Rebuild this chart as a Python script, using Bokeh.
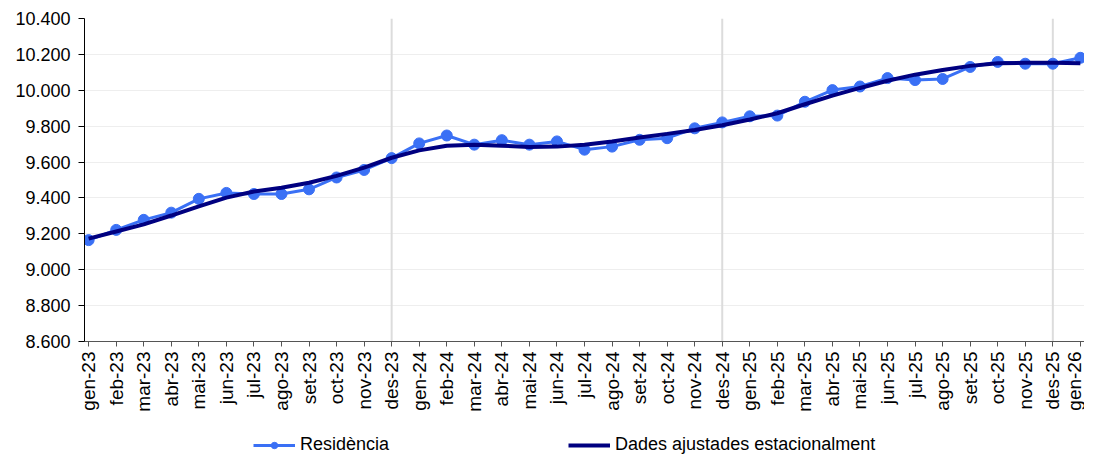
import math
from bokeh.plotting import figure
from bokeh.layouts import column
from bokeh.models import Range1d, FixedTicker, Span, Legend, LegendItem
from bokeh.embed import file_html
from bokeh.resources import INLINE

months = ["gen-23", "feb-23", "mar-23", "abr-23", "mai-23", "jun-23", "jul-23", "ago-23",
          "set-23", "oct-23", "nov-23", "des-23",
          "gen-24", "feb-24", "mar-24", "abr-24", "mai-24", "jun-24", "jul-24", "ago-24",
          "set-24", "oct-24", "nov-24", "des-24",
          "gen-25", "feb-25", "mar-25", "abr-25", "mai-25", "jun-25", "jul-25", "ago-25",
          "set-25", "oct-25", "nov-25", "des-25", "gen-26"]

residencia = [9165, 9222, 9278, 9318, 9395, 9428, 9422, 9422, 9448, 9514, 9556, 9622,
              9704, 9748, 9697, 9722, 9697, 9715, 9669, 9686, 9724, 9733, 9788, 9821,
              9855, 9859, 9936, 10001, 10021, 10068, 10057, 10063, 10130, 10158, 10148, 10148,
              10181]

ajustades = [9173, 9213, 9253, 9302, 9353, 9402, 9436, 9457, 9485, 9523, 9569, 9624,
             9665, 9691, 9697, 9691, 9684, 9686, 9697, 9715, 9737, 9757, 9779, 9805,
             9837, 9872, 9922, 9970, 10013, 10053, 10087, 10113, 10136, 10150, 10153, 10153,
             10150]

y_ticks = [8600, 8800, 9000, 9200, 9400, 9600, 9800, 10000, 10200, 10400]
year_marks = ["des-23", "des-24", "des-25"]
legend_labels = ["Residència", "Dades ajustades estacionalment"]

x = list(range(len(months)))
FONT = "Liberation Sans"
RES_COLOR = "#3a70f5"
ADJ_COLOR = "#000080"

p = figure(width=1084, height=421, output_backend="svg", toolbar_location=None,
           x_range=Range1d(-0.15, len(months) - 1 + 0.15),
           y_range=Range1d(y_ticks[0], y_ticks[-1]),
           min_border_left=84, min_border_right=0, min_border_top=18, min_border_bottom=80)
p.outline_line_color = None
p.background_fill_color = "white"
p.border_fill_color = "white"

# grid
p.xgrid.visible = False
p.ygrid.ticker = FixedTicker(ticks=y_ticks)
p.ygrid.grid_line_color = "#eeeeee"
p.ygrid.grid_line_width = 1

# separators at each December
for m in year_marks:
    p.add_layout(Span(location=months.index(m), dimension="height",
                      line_color="#dcdcdc", line_width=2, level="underlay"))

# axes
p.yaxis.ticker = FixedTicker(ticks=y_ticks)
p.yaxis.major_label_overrides = {v: f"{v:,}".replace(",", ".") for v in y_ticks}
p.yaxis.major_label_text_font = FONT
p.yaxis.major_label_text_font_size = "18px"
p.yaxis.major_label_text_color = "#000000"
p.yaxis.axis_line_color = "#000000"
p.yaxis.major_tick_line_color = "#000000"
p.yaxis.major_tick_out = 6
p.yaxis.major_tick_in = 0
p.yaxis.minor_tick_line_color = None
p.yaxis.major_label_standoff = 8

p.xaxis.ticker = FixedTicker(ticks=x)
p.xaxis.major_label_overrides = {i: m for i, m in enumerate(months)}
p.xaxis.major_label_orientation = math.pi / 2
p.xaxis.major_label_text_font = FONT
p.xaxis.major_label_text_font_size = "19px"
p.xaxis.major_label_text_color = "#000000"
p.xaxis.axis_line_color = "#555555"
p.xaxis.major_tick_line_color = "#555555"
p.xaxis.major_tick_out = 5
p.xaxis.major_tick_in = 0
p.xaxis.minor_tick_line_color = None
p.xaxis.major_label_standoff = 5

# series
p.line(x, residencia, line_color=RES_COLOR, line_width=3)
p.scatter(x, residencia, size=11, marker="circle", fill_color=RES_COLOR, line_color=RES_COLOR)
p.line(x, ajustades, line_color=ADJ_COLOR, line_width=4)

# legend strip below the chart (its own ranges keep the series out of view;
# only the legend keys are shown)
lg = figure(width=1084, height=34, output_backend="svg", toolbar_location=None,
            x_range=Range1d(-3, -2), y_range=Range1d(0, 1),
            min_border_left=0, min_border_right=0, min_border_top=0, min_border_bottom=0)
lg.axis.visible = False
lg.grid.visible = False
lg.outline_line_color = None
lk_line = lg.line(x, residencia, line_color=RES_COLOR, line_width=3)
lk_pts = lg.scatter(x, residencia, size=11, marker="circle", fill_color=RES_COLOR,
                    line_color=RES_COLOR)
la_line = lg.line(x, ajustades, line_color=ADJ_COLOR, line_width=4)
legend = Legend(items=[LegendItem(label=legend_labels[0], renderers=[lk_line, lk_pts]),
                       LegendItem(label=legend_labels[1], renderers=[la_line])],
                orientation="horizontal", location=(169, 0),
                label_text_font=FONT, label_text_font_size="18px",
                label_text_color="#000000", glyph_width=42, glyph_height=16,
                label_height=16, label_standoff=5, spacing=179, padding=0, margin=0,
                border_line_color=None, background_fill_alpha=0)
lg.add_layout(legend, "center")

layout = column(p, lg, spacing=0)
open("out.html", "w").write(file_html(layout, INLINE))
